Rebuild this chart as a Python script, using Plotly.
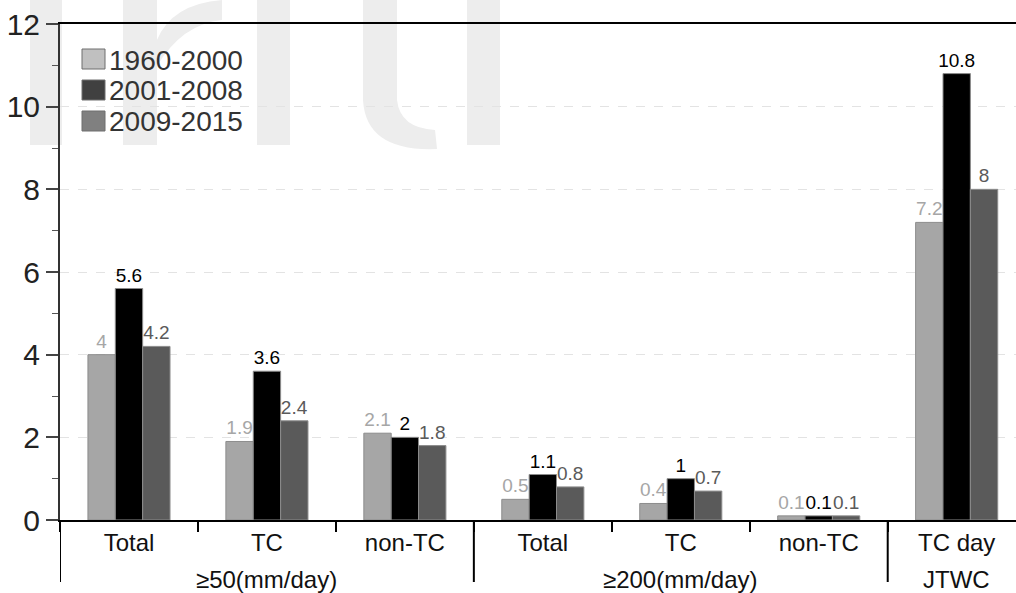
import plotly.graph_objects as go

groups = ["≥50(mm/day)"] * 3 + ["≥200(mm/day)"] * 3 + ["JTWC"]
categories = ["Total", "TC", "non-TC", "Total", "TC", "non-TC", "TC day"]
series_names = ["1960-2000", "2001-2008", "2009-2015"]
v_1960_2000 = [4, 1.9, 2.1, 0.5, 0.4, 0.1, 7.2]
v_2001_2008 = [5.6, 3.6, 2, 1.1, 1, 0.1, 10.8]
v_2009_2015 = [4.2, 2.4, 1.8, 0.8, 0.7, 0.1, 8]
y_ticks = [0, 2, 4, 6, 8, 10, 12]

bar_colors = ["#a6a6a6", "#000000", "#5a5a5a"]
legend_colors = ["#c0c0c0", "#404040", "#808080"]
FONT = "Liberation Sans, Arial, Helvetica, sans-serif"

# unique x keys (group + category) so repeated category names stay separate
x_keys = [f"{g}|{c}" for g, c in zip(groups, categories)]

fig = go.Figure()
for name, vals, col in zip(series_names, [v_1960_2000, v_2001_2008, v_2009_2015], bar_colors):
    fig.add_trace(go.Bar(
        x=x_keys, y=vals, name=name,
        marker=dict(color=col, line=dict(color="#8c8c8c", width=1)),
        texttemplate="%{y}", textposition="outside", constraintext="none",
        textfont=dict(family=FONT, size=19, color=col),
        cliponaxis=False, showlegend=False,
    ))

# plot area in pixels: left 60, top 24, 956 x 496
L, T = 60, 24
PW, PH = 956, 496


def px(xp):
    return (xp - L) / PW


def py(yp):
    return 1 - (yp - T) / PH


# faint background watermark (behind everything)
WM = "#ededed"
for x0, x1 in [(30, 62), (123, 157), (257, 290), (467, 500)]:
    fig.add_shape(type="rect", xref="paper", yref="paper", layer="below",
                  x0=px(x0), x1=px(x1), y0=py(145), y1=py(0),
                  fillcolor=WM, line=dict(width=0))

r_hook = (f"M{px(157)},{py(40)} Q{px(172)},{py(4)} {px(222)},{py(0)} "
          f"L{px(222)},{py(20)} Q{px(182)},{py(24)} {px(157)},{py(66)} Z")
t_shape = (f"M{px(363)},{py(0)} L{px(397)},{py(0)} L{px(397)},{py(100)} "
           f"Q{px(400)},{py(128)} {px(435)},{py(130)} L{px(437)},{py(149)} "
           f"Q{px(366)},{py(152)} {px(363)},{py(100)} Z")
for p in [r_hook, t_shape]:
    fig.add_shape(type="path", xref="paper", yref="paper", layer="below",
                  path=p, fillcolor=WM, line=dict(width=0))

# manual legend (swatch + label)
for i, (name, col) in enumerate(zip(series_names, legend_colors)):
    cy = 59 + 31 * i
    fig.add_shape(type="rect", xref="paper", yref="paper",
                  x0=px(82), x1=px(105), y0=py(cy + 10), y1=py(cy - 10),
                  fillcolor=col, line=dict(color="#6e6e6e", width=1))
    fig.add_annotation(xref="paper", yref="paper", x=px(107), y=py(cy + 1),
                       text=name, showarrow=False, xanchor="left", yanchor="middle",
                       font=dict(family=FONT, size=28, color="#333333"))

# group labels and dividers, derived from the groups list
starts = [i for i in range(len(groups)) if i == 0 or groups[i] != groups[i - 1]]
for k, s in enumerate(starts):
    e = starts[k + 1] - 1 if k + 1 < len(starts) else len(groups) - 1
    fig.add_annotation(xref="x", yref="paper", x=(s + e) / 2, y=py(579),
                       text=groups[s], showarrow=False, xanchor="center", yanchor="middle",
                       font=dict(family=FONT, size=24, color="#111111"))
    fig.add_shape(type="line", xref="x", yref="paper", layer="above",
                  x0=s - 0.5, x1=s - 0.5, y0=py(520), y1=py(582),
                  line=dict(color="#000000", width=2))

fig.update_layout(
    width=1016, height=593,
    margin=dict(l=60, r=0, t=24, b=73),
    paper_bgcolor="white", plot_bgcolor="rgba(0,0,0,0)",
    barmode="group", bargap=0.405, bargroupgap=0,
    font=dict(family=FONT, color="#111111"),
    showlegend=False,
)
fig.update_xaxes(
    type="category", range=[-0.5, 6.43], automargin=False,
    tickmode="array", tickvals=x_keys, ticktext=categories, tickson="boundaries",
    showline=True, linecolor="#000000", linewidth=2, mirror=True,
    ticks="outside", ticklen=10, tickwidth=2, tickcolor="#000000",
    tickfont=dict(family=FONT, size=24, color="#111111"),
    showgrid=False,
)
fig.update_yaxes(
    range=[0, 12], tickvals=y_ticks, automargin=False,
    showline=True, linecolor="#333333", linewidth=2,
    ticks="outside", ticklen=12, tickwidth=1.5, tickcolor="#444444",
    minor=dict(dtick=1, ticks="outside", ticklen=6, tickwidth=1, tickcolor="#555555", showgrid=False),
    showgrid=True, gridcolor="#e3e3e3", griddash="dash", gridwidth=1,
    zeroline=False,
    tickfont=dict(family=FONT, size=30, color="#222222"),
)
fig.write_html(
    "out.html",
    config={"displayModeBar": False},
    post_script="document.body.style.margin='0';document.body.style.overflow='hidden';",
)
